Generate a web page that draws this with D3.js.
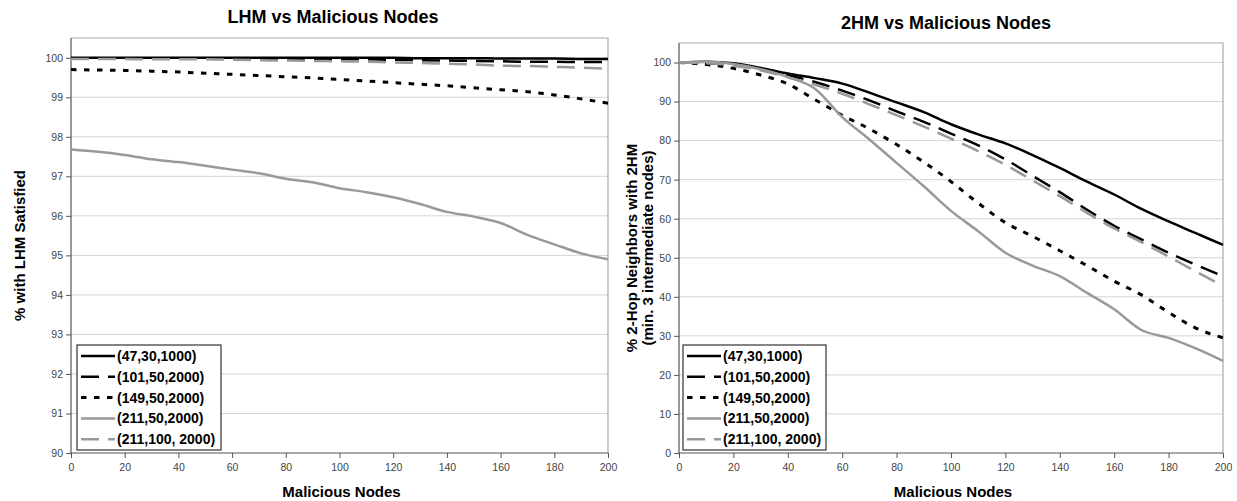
<!DOCTYPE html>
<html lang="en">
<head>
<meta charset="utf-8">
<title>LHM / 2HM vs Malicious Nodes</title>
<script src="https://cdn.jsdelivr.net/npm/d3@7"></script>
<style>
  html, body { margin: 0; padding: 0; background: #fff; }
  svg { display: block; font-family: "Liberation Sans", Arial, sans-serif; }
  .tick text { fill: #444; font-size: 10.5px; }
  .title { font-weight: bold; font-size: 18px; fill: #000; }
  .axis-title { font-weight: bold; font-size: 15px; fill: #000; }
  .legend text { font-weight: bold; font-size: 14px; fill: #000; }
</style>
</head>
<body>
<script>
// x values (malicious nodes)
var nodes = [0,10,20,30,40,50,60,70,80,90,100,110,120,130,140,150,160,170,180,190,200];

var seriesNames = ["(47,30,1000)", "(101,50,2000)", "(149,50,2000)", "(211,50,2000)", "(211,100, 2000)"];

// LHM chart
var lhm47  = [100,100,100,100,100,100,100,100,100,100,100,100,100,99.99,99.99,99.99,99.98,99.98,99.98,99.97,99.97];
var lhm101 = [99.99,99.99,99.99,99.99,99.98,99.98,99.98,99.98,99.97,99.97,99.97,99.96,99.95,99.94,99.93,99.92,99.91,99.9,99.9,99.89,99.89];
var lhm149 = [99.7,99.69,99.68,99.66,99.64,99.61,99.58,99.55,99.52,99.49,99.45,99.41,99.37,99.33,99.29,99.24,99.19,99.14,99.06,98.96,98.85];
var lhm211 = [97.68,97.62,97.54,97.43,97.36,97.27,97.17,97.08,96.94,96.85,96.7,96.6,96.47,96.3,96.1,95.98,95.82,95.52,95.28,95.05,94.9];
var lhm211b = [99.97,99.97,99.97,99.96,99.96,99.96,99.95,99.94,99.93,99.92,99.91,99.9,99.88,99.87,99.85,99.83,99.8,99.79,99.77,99.75,99.72];

// 2HM chart
var hm47  = [100,100.2,99.8,98.6,97.2,96,94.6,92.3,89.8,87.3,84.2,81.6,79.3,76.3,73,69.5,66.2,62.5,59.3,56.3,53.3];
var hm101 = [100,99.8,99.3,98.3,96.8,95,92.8,90.3,87.5,84.8,81.8,78.8,75.2,71,66.8,62.3,58.2,54.7,51.3,48.2,45.3];
var hm149 = [100,99.5,98.5,96.8,94.5,90.5,86.5,83,79,74.5,69.5,64,59,55.5,51.8,48,44,40.5,36,32,29.5];
var hm211 = [100,100.2,99.6,98.3,96.3,93.3,86,80.3,74.3,68.3,62,56.8,51.3,48,45.3,41,36.8,31.5,29.5,26.8,23.6];
var hm211b = [100,99.8,99.2,98,96.2,94.3,92,89.3,86.5,83.6,80.5,77.3,73.8,69.8,65.8,61.5,57.5,54,50.3,46.5,42.8];

var xTicks = [0,20,40,60,80,100,120,140,160,180,200];
var lhmTicks = [90,91,92,93,94,95,96,97,98,99,100];
var hmTicks = [0,10,20,30,40,50,60,70,80,90,100];

// line look for each series, same order as seriesNames
var styles = [
  {color: "#000", dash: null, width: 2.5},
  {color: "#000", dash: "18,9", width: 2.5},
  {color: "#000", dash: "5.5,7.5", width: 3},
  {color: "#999", dash: null, width: 2.5},
  {color: "#999", dash: "18,9", width: 2.5}
];

var svg = d3.select("body").append("svg")
  .attr("width", 1237)
  .attr("height", 501);

function drawChart(cfg) {
  var x = d3.scaleLinear().domain([0, 200]).range([cfg.left, cfg.right]);
  var y = d3.scaleLinear().domain(cfg.domain).range([cfg.bottom, cfg.top]);
  var g = svg.append("g");

  // gridlines
  g.selectAll("line.grid")
    .data(cfg.yTicks.slice(1))
    .enter().append("line")
    .attr("class", "grid")
    .attr("x1", cfg.left).attr("x2", cfg.right)
    .attr("y1", function(d) { return y(d); })
    .attr("y2", function(d) { return y(d); })
    .attr("stroke", "#d4d4d4").attr("stroke-width", 1);

  // plot border (top / right)
  g.append("path")
    .attr("d", "M" + cfg.left + "," + cfg.top + "H" + cfg.right + "V" + cfg.bottom)
    .attr("fill", "none").attr("stroke", "#a8a8a8").attr("stroke-width", 1.2);

  var xAxis = g.append("g")
    .attr("transform", "translate(0," + cfg.bottom + ")")
    .call(d3.axisBottom(x).tickValues(xTicks).tickSize(5).tickPadding(6));
  var yAxis = g.append("g")
    .attr("transform", "translate(" + cfg.left + ",0)")
    .call(d3.axisLeft(y).tickValues(cfg.yTicks).tickSize(5).tickPadding(3));
  [xAxis, yAxis].forEach(function(a) {
    a.select(".domain").attr("stroke", "#555").attr("stroke-width", 1.2);
    a.selectAll(".tick line").attr("stroke", "#555");
  });
  xAxis.select(".domain").attr("d", "M" + cfg.left + ",0H" + cfg.right);
  yAxis.select(".domain").attr("d", "M0," + cfg.bottom + "V" + cfg.top);

  var line = d3.line()
    .x(function(d) { return x(d[0]); })
    .y(function(d) { return y(d[1]); })
    .curve(d3.curveMonotoneX);

  cfg.series.forEach(function(vals, i) {
    var s = styles[i];
    g.append("path")
      .datum(nodes.map(function(n, j) { return [n, vals[j]]; }))
      .attr("d", line)
      .attr("fill", "none")
      .attr("stroke", s.color)
      .attr("stroke-width", s.width)
      .attr("stroke-dasharray", s.dash);
  });

  // titles
  g.append("text").attr("class", "title")
    .attr("x", cfg.titleX).attr("y", cfg.titleY)
    .attr("text-anchor", "middle").text(cfg.title);
  g.append("text").attr("class", "axis-title")
    .attr("x", (cfg.left + cfg.right) / 2 + 2).attr("y", 497)
    .attr("text-anchor", "middle").text("Malicious Nodes");
  cfg.yTitle.forEach(function(t, k) {
    g.append("text").attr("class", "axis-title")
      .attr("transform", "translate(" + cfg.yTitleX[k] + "," + ((cfg.top + cfg.bottom) / 2) + ") rotate(-90)")
      .attr("text-anchor", "middle").attr("dy", "0.35em").text(t);
  });

  // legend
  var lg = g.append("g").attr("class", "legend");
  var lx = cfg.left + cfg.legendDx, ly = 345, lh = 105, lw = cfg.legendW;
  lg.append("rect")
    .attr("x", lx).attr("y", ly).attr("width", lw).attr("height", lh)
    .attr("fill", "#fff").attr("stroke", "#333").attr("stroke-width", 1.2);
  seriesNames.forEach(function(name, i) {
    var cy = ly + 11 + i * 20.8;
    var s = styles[i];
    lg.append("line")
      .attr("x1", lx + 4).attr("x2", lx + 38)
      .attr("y1", cy).attr("y2", cy)
      .attr("stroke", s.color).attr("stroke-width", s.width)
      .attr("stroke-dasharray", s.dash);
    lg.append("text")
      .attr("x", lx + 40).attr("y", cy).attr("dy", "0.36em")
      .text(name);
  });
}

drawChart({
  left: 71, right: 608, top: 38, bottom: 453,
  domain: [90, 100.5], yTicks: lhmTicks,
  series: [lhm47, lhm101, lhm149, lhm211, lhm211b],
  title: "LHM vs Malicious Nodes", titleX: 333, titleY: 23,
  yTitle: ["% with LHM Satisfied"], yTitleX: [20],
  legendDx: 6, legendW: 144
});

drawChart({
  left: 679, right: 1223, top: 43, bottom: 453,
  domain: [0, 105], yTicks: hmTicks,
  series: [hm47, hm101, hm149, hm211, hm211b],
  title: "2HM vs Malicious Nodes", titleX: 946, titleY: 29,
  yTitle: ["% 2-Hop Neighbors with 2HM", "(min. 3 intermediate nodes)"], yTitleX: [632, 648],
  legendDx: 4, legendW: 143
});
</script>
</body>
</html>
